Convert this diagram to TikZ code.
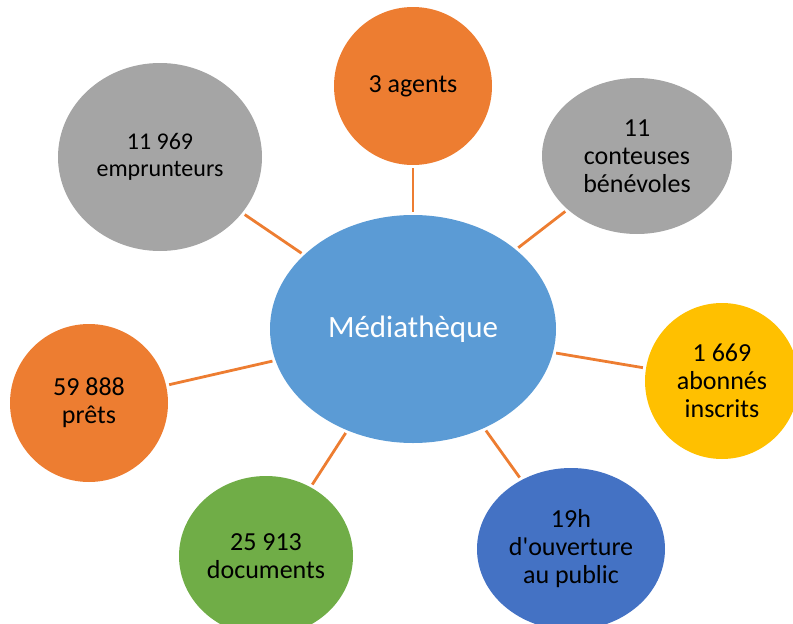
\documentclass[tikz,border=0pt]{standalone}
\usepackage{fontspec}
\setmainfont{Carlito}
\usepackage{tikz}
\usetikzlibrary{shapes.geometric}

\definecolor{accorange}{HTML}{ED7D31}
\definecolor{accgray}{HTML}{A5A5A5}
\definecolor{accyellow}{HTML}{FFC000}
\definecolor{accblue}{HTML}{4472C4}
\definecolor{accgreen}{HTML}{70AD47}
\definecolor{acclight}{HTML}{5B9BD5}

\begin{document}
\begin{tikzpicture}[
x=1pt, y=-1pt,
roundnode/.style={ellipse, inner sep=0pt, align=center, text=black, font=\fontsize{26}{28}\selectfont},
hubnode/.style={roundnode, fill=acclight, text=white, minimum width=286pt, minimum height=228pt, font=\fontsize{31}{34}\selectfont},
spoke/.style={draw=accorange, line width=2.8pt, shorten <=3pt, shorten >=3pt},
]
\clip (0,0) rectangle (793,624);

%Nodes
\node[hubnode]   (hub)       at (413,329) {Médiathèque};
\node[roundnode, fill=accorange, minimum width=158pt, minimum height=158pt] (agents)    at (413,86)  {3 agents};
\node[roundnode, fill=accgray, minimum width=190pt, minimum height=156pt]   (conteuses) at (637,156) {11\\conteuses\\bénévoles};
\node[roundnode, fill=accyellow, minimum width=154pt, minimum height=156pt] (abonnes)   at (722,381) {1 669\\abonnés\\inscrits};
\node[roundnode, fill=accblue, minimum width=188pt, minimum height=162pt]   (horaires)  at (571,549) {19h\\d\textquotesingle ouverture\\au public};
\node[roundnode, fill=accgreen, minimum width=174pt, minimum height=160pt]  (documents) at (266,556) {25 913\\documents};
\node[roundnode, fill=accorange, minimum width=158pt, minimum height=158pt] (prets)     at (89,403)  {59 888\\prêts};
\node[roundnode, fill=accgray, minimum width=204pt, minimum height=188pt, font=\fontsize{24}{27}\selectfont] (emprunteurs) at (160,157) {11 969\\emprunteurs};

%Lines
\draw[spoke] (agents) -- (hub);
\draw[spoke] (conteuses) -- (hub);
\draw[spoke] (abonnes) -- (hub);
\draw[spoke] (horaires) -- (hub);
\draw[spoke] (documents) -- (hub);
\draw[spoke] (prets) -- (hub);
\draw[spoke] (emprunteurs) -- (hub);

\end{tikzpicture}
\end{document}
